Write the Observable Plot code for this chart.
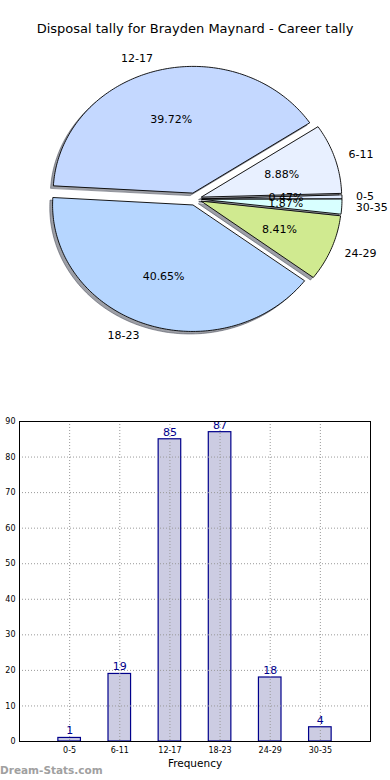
<!DOCTYPE html>
<html>
<head>
<meta charset="utf-8">
<script src="https://cdn.jsdelivr.net/npm/d3@7"></script>
<script src="https://cdn.jsdelivr.net/npm/@observablehq/plot@0.6"></script>
<style>
  html, body { margin: 0; padding: 0; background: #fff; }
  #wrap { position: relative; width: 390px; height: 780px; overflow: hidden; font-family: "DejaVu Sans", sans-serif; }
  #title { position: absolute; top: 21px; left: 0; width: 390px; text-align: center; font-size: 13px; color: #000; }
  #pie { position: absolute; top: 0; left: 0; }
  #bar { position: absolute; top: 400px; left: 0; }
  #brand { position: absolute; left: 0; top: 764px; font-size: 10.5px; font-weight: bold; color: #a0a0a0; }
</style>
</head>
<body>
<div id="wrap">
  <div id="pie"></div>
  <div id="title">Disposal tally for Brayden Maynard - Career tally</div>
  <div id="bar"></div>
  <div id="brand">Dream-Stats.com</div>
</div>
<script>
const categories = ["0-5", "6-11", "12-17", "18-23", "24-29", "30-35"];
const counts = [1, 19, 85, 87, 18, 4];
const sliceColors = ["#e0ecff", "#e8f0ff", "#c4d8ff", "#b6d6ff", "#d0ea90", "#d8ffff"];
const yTicks = [0, 10, 20, 30, 40, 50, 60, 70, 80, 90];
const xAxisLabel = ["Frequency"];

// ---------- pie ----------
const total = d3.sum(counts);
const explode = 0.05;
let acc = 0;
const slices = categories.map((c, i) => {
  const a0 = acc / total * 2 * Math.PI;
  acc += counts[i];
  const a1 = acc / total * 2 * Math.PI;
  const mid = (a0 + a1) / 2;
  const ox = explode * Math.cos(mid), oy = explode * Math.sin(mid);
  const pts = [{x: ox, y: oy}];
  const n = Math.max(2, Math.ceil((a1 - a0) / (Math.PI / 180)));
  for (let k = 0; k <= n; k++) {
    const a = a0 + (a1 - a0) * k / n;
    pts.push({x: ox + Math.cos(a), y: oy + Math.sin(a)});
  }
  return {cat: c, count: counts[i], color: sliceColors[i], mid, ox, oy, pts,
          pct: (counts[i] / total * 100).toFixed(2) + "%"};
});

const shadowOff = 0.02;
const pieMarks = [];
for (const s of slices) {
  pieMarks.push(Plot.line(s.pts, {
    x: d => d.x - shadowOff, y: d => d.y - shadowOff, curve: "linear-closed",
    fill: "rgb(59,64,77)", fillOpacity: 0.5, stroke: "rgb(59,64,77)", strokeOpacity: 0.5, strokeWidth: 1
  }));
}
for (const s of slices) {
  pieMarks.push(Plot.line(s.pts, {
    x: "x", y: "y", curve: "linear-closed",
    fill: s.color, stroke: "#000", strokeWidth: 0.9
  }));
}
const pctLabels = slices.map(s => ({x: s.ox + 0.6 * Math.cos(s.mid), y: s.oy + 0.6 * Math.sin(s.mid), t: s.pct}));
const catLabels = slices.map(s => ({x: s.ox + 1.1 * Math.cos(s.mid), y: s.oy + 1.1 * Math.sin(s.mid), t: s.cat, right: Math.cos(s.mid) > 0}));
pieMarks.push(Plot.text(pctLabels, {x: "x", y: "y", text: "t", fontSize: 11, fill: "#000", textAnchor: "middle"}));
pieMarks.push(Plot.text(catLabels.filter(d => d.right), {x: "x", y: "y", text: "t", fontSize: 11, fill: "#000", textAnchor: "start"}));
pieMarks.push(Plot.text(catLabels.filter(d => !d.right), {x: "x", y: "y", text: "t", fontSize: 11, fill: "#000", textAnchor: "end"}));

const cx = 194.5, cy = 198.5, rx = 140, ry = 126.5, W = 390, H = 390;
const pie = Plot.plot({
  width: W, height: H, margin: 0,
  style: {fontFamily: "DejaVu Sans, sans-serif", background: "transparent"},
  x: {domain: [-cx / rx, (W - cx) / rx], axis: null},
  y: {domain: [-(H - cy) / ry, cy / ry], axis: null},
  marks: pieMarks
});
document.getElementById("pie").append(pie);

// ---------- bars ----------
const barData = categories.map((c, i) => ({i, cat: c, v: counts[i]}));
const bw = 0.225;
const bar = Plot.plot({
  width: 390, height: 380,
  marginTop: 21, marginBottom: 39, marginLeft: 19, marginRight: 20,
  style: {fontFamily: "DejaVu Sans, sans-serif", background: "transparent", fontSize: "8px"},
  x: {domain: [-1, 6], ticks: d3.range(categories.length), tickFormat: i => categories[i], tickSize: 0, tickPadding: 6, label: null},
  y: {domain: [0, 90], ticks: yTicks, tickSize: 0, tickPadding: 4, label: null},
  marks: [
    Plot.rectY(barData, {x1: d => d.i - bw, x2: d => d.i + bw, y: "v", fill: "#ccccE2", stroke: "#00008b", strokeWidth: 1.2}),
    Plot.gridY(yTicks, {stroke: "#999", strokeOpacity: 1, strokeDasharray: "1,2"}),
    Plot.gridX(d3.range(categories.length), {stroke: "#999", strokeOpacity: 1, strokeDasharray: "1,2"}),
    Plot.text(barData, {x: "i", y: "v", text: d => String(d.v), dy: -7, fill: "#00008b", fontSize: 11}),
    Plot.frame({stroke: "#000", strokeWidth: 1}),
    Plot.axisX({ticks: d3.range(categories.length), tickFormat: i => categories[i], tickSize: 0, tickPadding: 6, fontSize: 8, label: null}),
    Plot.axisY({ticks: yTicks, tickSize: 0, tickPadding: 4, fontSize: 8, label: null}),
    Plot.text(xAxisLabel, {frameAnchor: "bottom", dy: 25, fontSize: 10.5, fill: "#000"})
  ]
});
document.getElementById("bar").append(bar);
</script>
</body>
</html>
